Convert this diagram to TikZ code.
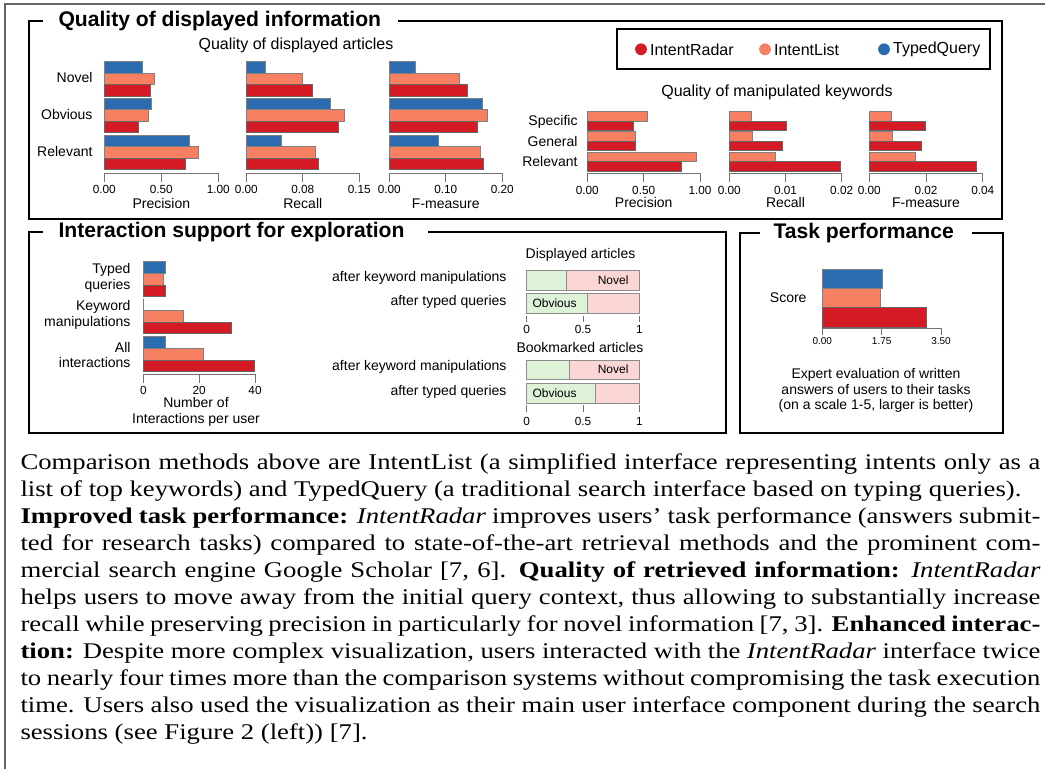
\documentclass[tikz,border=0pt]{standalone}
\usepackage{fontspec,graphicx}
\setmainfont{Liberation Serif}
\setsansfont{Liberation Sans}

\definecolor{radarred}{RGB}{212,26,36}
\definecolor{listorange}{RGB}{247,128,98}
\definecolor{typedblue}{RGB}{43,108,176}
\definecolor{obvgreen}{RGB}{222,242,216}
\definecolor{novpink}{RGB}{250,215,213}

% one justified line of the caption
\newcommand\fullline[1]{\hbox to \hsize{#1}}

\begin{document}
\begin{tikzpicture}[x=0.45pt,y=-0.45pt,line width=.45pt,
  radar/.style={fill=radarred,draw=black!60,line width=.35pt},
  list/.style={fill=listorange,draw=black!50,line width=.35pt},
  typed/.style={fill=typedblue,draw=black!50,line width=.35pt},
  obv/.style={fill=obvgreen,draw=black!45,line width=.35pt},
  nov/.style={fill=novpink,draw=black!45,line width=.35pt},
  axis/.style={draw=black!55,line width=.45pt},
  panel/.style={line width=1.2pt},
  ptitle/.style={anchor=west,inner sep=0pt,font=\sffamily\bfseries\fontsize{9.5}{11}\selectfont},
  sub/.style={inner sep=0pt,font=\sffamily\fontsize{7.2}{8.6}\selectfont},
  lbl/.style={inner sep=0pt,font=\sffamily\fontsize{6.3}{7.1}\selectfont},
  tick/.style={inner sep=0pt,font=\sffamily\fontsize{5.3}{6}\selectfont},
  small/.style={inner sep=0pt,font=\sffamily\fontsize{4.5}{5.4}\selectfont},
  inbar/.style={inner sep=0pt,font=\sffamily\fontsize{5.4}{6.4}\selectfont},
  dot/.style={circle,inner sep=0pt,minimum size=5.3pt}]
\path[use as bounding box] (0,0) rectangle (1045,769);
\draw[black!60,line width=.5pt] (1045,4) -- (5,4) -- (5,769);

% quality of displayed information
\draw[panel] (43,21) -- (29,21) -- (29,219) -- (1002,219) -- (1002,21) -- (398,21);
\node[ptitle] (info) at (58,21) {Quality of displayed information};
\node[sub] (sub-art) at (296,45) {Quality of displayed articles};
\node[lbl,anchor=east] (g-novel) at (93,78) {Novel};
\node[lbl,anchor=east] (g-obvious) at (93,115) {Obvious};
\node[lbl,anchor=east] (g-relevant) at (93,152) {Relevant};
\draw[typed] (104.3,61.5) rectangle (142.7,73);
\draw[list] (104.3,73) rectangle (154.3,84.5);
\draw[radar] (104.3,84.5) rectangle (150.7,96);
\draw[typed] (104.3,98.2) rectangle (151.7,109.7);
\draw[list] (104.3,109.7) rectangle (148.3,121.2);
\draw[radar] (104.3,121.2) rectangle (138.3,132.7);
\draw[typed] (104.3,134.9) rectangle (189.3,146.4);
\draw[list] (104.3,146.4) rectangle (198.3,157.9);
\draw[radar] (104.3,157.9) rectangle (185,169.4);
\draw[typed] (246.3,61.5) rectangle (265.7,73);
\draw[list] (246.3,73) rectangle (302.3,84.5);
\draw[radar] (246.3,84.5) rectangle (312.3,96);
\draw[typed] (246.3,98.2) rectangle (330.3,109.7);
\draw[list] (246.3,109.7) rectangle (344.3,121.2);
\draw[radar] (246.3,121.2) rectangle (338.3,132.7);
\draw[typed] (246.3,134.9) rectangle (281.7,146.4);
\draw[list] (246.3,146.4) rectangle (315.3,157.9);
\draw[radar] (246.3,157.9) rectangle (318.7,169.4);
\draw[typed] (389.3,61.5) rectangle (415,73);
\draw[list] (389.3,73) rectangle (459.3,84.5);
\draw[radar] (389.3,84.5) rectangle (467.3,96);
\draw[typed] (389.3,98.2) rectangle (482.3,109.7);
\draw[list] (389.3,109.7) rectangle (487.3,121.2);
\draw[radar] (389.3,121.2) rectangle (477.3,132.7);
\draw[typed] (389.3,134.9) rectangle (438.3,146.4);
\draw[list] (389.3,146.4) rectangle (480,157.9);
\draw[radar] (389.3,157.9) rectangle (483.3,169.4);
\draw[axis] (104.3,182) -- (104.3,174) -- (218.3,174) -- (218.3,182) (161.3,174) -- (161.3,182);
\draw[axis] (246.3,182) -- (246.3,174) -- (359.3,174) -- (359.3,182) (302.8,174) -- (302.8,182);
\draw[axis] (389.3,182) -- (389.3,174) -- (502.3,174) -- (502.3,182) (445.8,174) -- (445.8,182);
\node[tick] (pa0) at (104.3,189) {0.00};
\node[tick] (pa1) at (161.3,189) {0.50};
\node[tick] (pa2) at (218.3,189) {1.00};
\node[tick] (ra0) at (246.3,189) {0.00};
\node[tick] (ra1) at (302.8,189) {0.08};
\node[tick] (ra2) at (359.3,189) {0.15};
\node[tick] (fa0) at (389.3,189) {0.00};
\node[tick] (fa1) at (445.8,189) {0.10};
\node[tick] (fa2) at (502.3,189) {0.20};
\node[lbl] (prec-a) at (161.3,204) {Precision};
\node[lbl] (rec-a) at (302.8,204) {Recall};
\node[lbl] (fm-a) at (445.8,204) {F-measure};

% legend
\draw[line width=1.1pt] (617,29) rectangle (990,69);
\node[dot,fill=radarred] (d-radar) at (641,49.3) {};
\node[sub,anchor=west] (l-radar) at ([xshift=1pt]d-radar.east) {IntentRadar};
\node[dot,fill=listorange] (d-list) at (765,49.3) {};
\node[sub,anchor=west] (l-list) at ([xshift=1pt]d-list.east) {IntentList};
\node[dot,fill=typedblue] (d-typed) at (884,49.3) {};
\node[sub,anchor=west] (l-typed) at ([xshift=1pt]d-typed.east) {TypedQuery};

% manipulated keywords
\node[sub] (sub-kw) at (777,92) {Quality of manipulated keywords};
\node[lbl,anchor=east] (k-specific) at (578,122) {Specific};
\node[lbl,anchor=east] (k-general) at (578,141.5) {General};
\node[lbl,anchor=east] (k-relevant) at (578,162) {Relevant};
\draw[list] (587.3,111.7) rectangle (647.7,121);
\draw[radar] (587.3,121) rectangle (633.3,130.3);
\draw[list] (587.3,131.7) rectangle (635,141);
\draw[radar] (587.3,141) rectangle (635,150.3);
\draw[list] (587.3,152.5) rectangle (696,161.8);
\draw[radar] (587.3,161.8) rectangle (681.7,171.1);
\draw[list] (729.3,111.7) rectangle (751.7,121);
\draw[radar] (729.3,121) rectangle (786.7,130.3);
\draw[list] (729.3,131.7) rectangle (752.7,141);
\draw[radar] (729.3,141) rectangle (782.7,150.3);
\draw[list] (729.3,152.5) rectangle (775.7,161.8);
\draw[radar] (729.3,161.8) rectangle (840.7,171.1);
\draw[list] (869.3,111.7) rectangle (891.7,121);
\draw[radar] (869.3,121) rectangle (925,130.3);
\draw[list] (869.3,131.7) rectangle (892.7,141);
\draw[radar] (869.3,141) rectangle (921.7,150.3);
\draw[list] (869.3,152.5) rectangle (915,161.8);
\draw[radar] (869.3,161.8) rectangle (976.7,171.1);
\draw[axis] (587.3,182) -- (587.3,174) -- (700,174) -- (700,182) (643.7,174) -- (643.7,182);
\draw[axis] (729.3,182) -- (729.3,174) -- (841.7,174) -- (841.7,182) (785.5,174) -- (785.5,182);
\draw[axis] (869.3,182) -- (869.3,174) -- (982.7,174) -- (982.7,182) (926,174) -- (926,182);
\node[tick] (kp0) at (587.3,190) {0.00};
\node[tick] (kp1) at (643.7,190) {0.50};
\node[tick] (kp2) at (700,190) {1.00};
\node[tick] (kr0) at (729.3,190) {0.00};
\node[tick] (kr1) at (785.5,190) {0.01};
\node[tick] (kr2) at (841.7,190) {0.02};
\node[tick] (kf0) at (869.3,190) {0.00};
\node[tick] (kf1) at (926,190) {0.02};
\node[tick] (kf2) at (982.7,190) {0.04};
\node[lbl] (kprec-a) at (643.7,203) {Precision};
\node[lbl] (krec-a) at (785.5,203) {Recall};
\node[lbl] (kfm-a) at (926,203) {F-measure};

% interaction support
\draw[panel] (43,232) -- (29,232) -- (29,433) -- (726,433) -- (726,232) -- (428,232);
\node[ptitle] (inter) at (58,232) {Interaction support for exploration};
\node[lbl,anchor=east,align=right] (i-typed) at (131,277.5) {Typed\\queries};
\node[lbl,anchor=east,align=right] (i-kw) at (131,315) {Keyword\\manipulations};
\node[lbl,anchor=east,align=right] (i-all) at (131,355) {All\\interactions};
\draw[typed] (143.3,261.7) rectangle (165.7,273.3);
\draw[list] (143.3,273.3) rectangle (163.3,284.9);
\draw[radar] (143.3,284.9) rectangle (165,296.5);
\draw[typed] (143.3,299) rectangle (143.3,310.6);
\draw[list] (143.3,310.6) rectangle (183.3,322.2);
\draw[radar] (143.3,322.2) rectangle (231.7,333.8);
\draw[typed] (143.3,336.7) rectangle (165.7,348.3);
\draw[list] (143.3,348.3) rectangle (203.3,359.9);
\draw[radar] (143.3,359.9) rectangle (254,371.5);
\draw[axis] (143.3,383) -- (143.3,375) -- (255,375) -- (255,383) (199.2,375) -- (199.2,383);
\node[tick] (ia0) at (143.3,390) {0};
\node[tick] (ia1) at (199.2,390) {20};
\node[tick] (ia2) at (255,390) {40};
\node[lbl,align=center] (ia-a) at (196,412) {Number of\\Interactions per user};

\node[lbl] (disp) at (580.5,255) {Displayed articles};
\node[lbl,anchor=east] (d-kw) at (507,278.3) {after keyword manipulations};
\node[lbl,anchor=east] (d-tq) at (507,301.7) {after typed queries};
\draw[obv] (526.7,270.5) rectangle (566.7,290);
\draw[nov] (566.7,270.5) rectangle (639.3,290);
\draw[obv] (526.7,293.5) rectangle (587.3,313);
\draw[nov] (587.3,293.5) rectangle (639.3,313);
\node[inbar,anchor=east] (d-novel) at (629,280.2) {Novel};
\node[inbar,anchor=west] (d-obvious) at (532,303.2) {Obvious};
\draw[axis] (526.7,316) -- (526.7,322) (583,316) -- (583,322) (639.3,316) -- (639.3,322);
\node[tick] (da0) at (526.7,329.3) {0};
\node[tick] (da1) at (583,329.3) {0.5};
\node[tick] (da2) at (639.3,329.3) {1};
\node[lbl] (book) at (580,347.3) {Bookmarked articles};
\node[lbl,anchor=east] (b-kw) at (507,366.7) {after keyword manipulations};
\node[lbl,anchor=east] (b-tq) at (507,391.7) {after typed queries};
\draw[obv] (526.7,360) rectangle (569.3,379.5);
\draw[nov] (569.3,360) rectangle (639.3,379.5);
\draw[obv] (526.7,383.5) rectangle (595,403);
\draw[nov] (595,383.5) rectangle (639.3,403);
\node[inbar,anchor=east] (b-novel) at (629,369.7) {Novel};
\node[inbar,anchor=west] (b-obvious) at (532,393.2) {Obvious};
\draw[axis] (526.7,405.5) -- (526.7,412) (583,405.5) -- (583,412) (639.3,405.5) -- (639.3,412);
\node[tick] (ba0) at (526.7,421) {0};
\node[tick] (ba1) at (583,421) {0.5};
\node[tick] (ba2) at (639.3,421) {1};

% task performance
\draw[panel] (760,233) -- (740,233) -- (740,433) -- (1003,433) -- (1003,233) -- (972,233);
\node[ptitle] (task) at (773,233) {Task performance};
\node[lbl,anchor=east] (score) at (807,297.5) {Score};
\draw[typed] (822.3,269) rectangle (882,288.3);
\draw[list] (822.3,288.3) rectangle (880,307.6);
\draw[radar] (822.3,307.6) rectangle (926,326.9);
\draw[axis] (822.3,335) -- (822.3,329) -- (941,329) -- (941,335) (881.7,329) -- (881.7,335);
\node[small] (sa0) at (822.3,340.7) {0.00};
\node[small] (sa1) at (881.7,340.7) {1.75};
\node[small] (sa2) at (941,340.7) {3.50};
\node[lbl,align=center,font=\sffamily\fontsize{6.3}{7}\selectfont] (expert) at (876,390.5) {Expert evaluation of written\\answers of users to their tasks\\(on a scale 1-5, larger is better)};

% caption text below the panels
\node[anchor=base west,inner sep=0pt] (caption) at (20,739.5) {\scalebox{1.19}[1]{\vbox{\fontsize{10.1}{12.15}\selectfont\hsize=385.7pt
\fullline{Comparison methods above are IntentList (a simplified interface representing intents only as a}
\hbox{list of top keywords) and TypedQuery (a traditional search interface based on typing queries).}
\fullline{\textbf{Improved task performance:} \textit{IntentRadar} improves users' task performance (answers submit-}
\fullline{ted for research tasks) compared to state-of-the-art retrieval methods and the prominent com-}
\fullline{mercial search engine Google Scholar [7, 6].  \textbf{Quality of retrieved information:} \textit{IntentRadar}}
\fullline{helps users to move away from the initial query context, thus allowing to substantially increase}
\fullline{recall while preserving precision in particularly for novel information [7, 3]. \textbf{Enhanced interac-}}
\fullline{\textbf{tion:} Despite more complex visualization, users interacted with the \textit{IntentRadar} interface twice}
\fullline{to nearly four times more than the comparison systems without compromising the task execution}
\fullline{time. Users also used the visualization as their main user interface component during the search}
\hbox{sessions (see Figure 2 (left)) [7].}}}};
\end{tikzpicture}
\end{document}
